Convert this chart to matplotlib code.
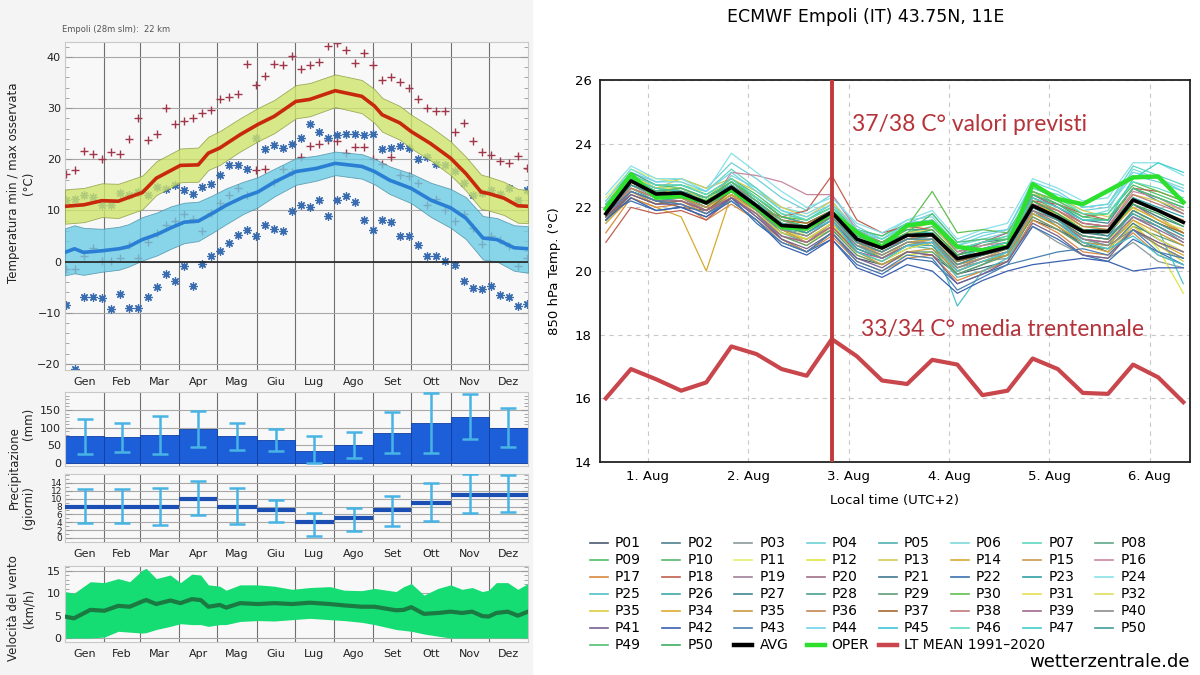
import numpy as np
import matplotlib.pyplot as plt
from matplotlib.patches import Rectangle
from matplotlib.lines import Line2D

# ---------------- left side: climate of Empoli ----------------
month_names = ['Gen', 'Feb', 'Mar', 'Apr', 'Mag', 'Giu', 'Lug', 'Ago', 'Set', 'Ott', 'Nov', 'Dez']
month_edges = [0, 31, 59, 90, 120, 151, 181, 212, 243, 273, 304, 334, 365]

# mean daily max and band
tmax_days = [0, 15, 29, 42, 61, 72, 91, 105, 113, 122, 138, 152, 165, 182, 193, 213, 234,
             244, 250, 264, 273, 288, 304, 316, 328, 334, 346, 357, 365]
tmax_mean = [10.8, 11.1, 11.9, 11.8, 13.5, 16.3, 18.8, 18.9, 21.2, 22.2, 24.8, 26.8, 28.4, 31.3,
             31.7, 33.4, 32.3, 30.4, 28.7, 27.1, 25.4, 23.1, 20.2, 17.2, 13.6, 13.3, 12.4, 10.9, 10.8]
tmax_hi = [14.1, 14.4, 15.3, 15.2, 16.8, 19.6, 22.1, 22.3, 24.4, 25.5, 28.0, 30.0, 31.6, 34.5,
           34.9, 36.6, 35.5, 33.7, 32.0, 30.4, 28.7, 26.4, 23.5, 20.5, 17.0, 16.6, 15.6, 14.2, 14.0]
tmax_lo = [7.4, 7.7, 8.7, 8.5, 10.2, 13.0, 15.5, 15.6, 17.9, 18.9, 21.5, 23.5, 25.1, 28.0,
           28.4, 30.2, 29.0, 27.1, 25.4, 23.8, 22.1, 19.8, 16.9, 13.9, 10.3, 10.0, 9.1, 7.6, 7.5]

# mean daily min and band
tmin_days = [0, 7.5, 14.5, 29, 42.5, 50, 61, 72.5, 83.5, 94, 105, 116, 127, 140.5, 152, 165.5,
             182, 198, 213, 234, 244, 256, 273, 288.5, 304, 316, 329.5, 340.5, 354, 365]
tmin_mean = [1.8, 2.5, 1.8, 2.1, 2.5, 2.9, 4.3, 5.3, 6.6, 7.7, 7.9, 9.4, 11.0, 12.6, 13.6, 15.6,
             17.6, 18.2, 19.2, 18.6, 17.6, 15.9, 14.3, 12.0, 10.5, 8.5, 4.6, 4.3, 2.7, 2.5]
tmin_hi = [6.5, 7.1, 6.6, 6.4, 6.8, 7.3, 8.7, 9.6, 10.8, 11.5, 11.7, 12.9, 14.3, 15.6, 16.5, 18.2,
           20.2, 20.7, 21.5, 21.0, 20.1, 18.6, 17.2, 15.4, 14.2, 12.6, 8.9, 8.5, 7.1, 6.9]
tmin_lo = [-2.7, -2.3, -2.6, -2.0, -1.6, -1.0, 0.2, 1.2, 2.5, 3.6, 4.0, 5.6, 7.3, 9.3, 10.6, 12.8,
           15.0, 15.8, 16.9, 16.2, 15.1, 13.2, 11.4, 8.7, 6.6, 4.4, 0.4, 0.0, -1.8, -2.2]

# weekly records
max_record_hi = [17.2, 17.9, 21.6, 21.0, 20.1, 21.4, 21.0, 24.0, 28.1, 23.7, 25.0, 30.0, 26.8,
                 27.4, 28.0, 29.0, 29.6, 31.7, 32.2, 32.8, 38.6, 34.5, 36.3, 38.7, 38.4, 40.1,
                 37.7, 38.5, 39.0, 42.2, 42.8, 41.3, 38.9, 40.7, 38.4, 35.5, 36.1, 35.1, 34.0,
                 31.8, 30.1, 29.5, 29.5, 25.4, 27.1, 23.5, 21.4, 20.9, 19.7, 19.2, 20.7, 18.2]
max_record_lo = [-1.4, -1.4, 1.0, 2.7, 0.1, 0.1, 0.7, 3.3, 0.7, 3.8, 5.6, 7.2, 8.0, 9.2, 8.3,
                 5.9, 9.4, 11.4, 13.1, 14.3, 13.0, 17.9, 18.0, 15.6, 18.0, 17.6, 20.5, 22.6,
                 23.0, 23.8, 23.6, 21.2, 22.3, 22.3, 20.1, 19.1, 20.5, 16.9, 16.8, 15.4, 11.1,
                 12.2, 10.0, 7.9, 9.2, 6.6, 3.4, 4.9, 4.3, 3.0, -0.9, 0.6]
min_record_hi = [12.0, 12.2, 13.0, 12.7, 11.1, 11.1, 13.5, 13.1, 13.6, 13.0, 14.6, 14.1, 15.0,
                 14.0, 13.3, 14.6, 15.1, 17.0, 18.8, 18.8, 18.0, 24.1, 22.0, 22.8, 22.2, 22.9,
                 24.1, 26.9, 25.3, 24.1, 24.8, 25.0, 25.0, 24.8, 25.0, 22.0, 22.2, 22.6, 22.2,
                 20.0, 20.5, 19.1, 18.9, 17.7, 15.4, 13.0, 13.5, 14.0, 13.3, 14.3, 12.1, 14.0]
min_record_lo = [-8.4, -21.0, -6.9, -6.9, -7.1, -9.2, -6.4, -9.0, -9.0, -6.9, -4.9, -2.5, -3.8,
                 -0.9, -4.7, -0.4, 1.0, 2.1, 3.6, 5.1, 6.1, 4.9, 7.1, 6.4, 5.9, 9.8, 11.1, 10.6,
                 12.1, 9.0, 12.1, 12.9, 11.6, 8.1, 6.2, 8.2, 7.7, 4.9, 4.9, 3.3, 1.0, 1.0, 0.2,
                 -0.6, -3.8, -5.1, -5.3, -4.8, -6.6, -6.9, -8.7, -8.2]

# monthly precipitation
rain_mm = [75, 73, 79, 95, 75, 64, 34, 50, 85, 114, 131, 99]
rain_mm_lo = [25, 32, 26, 45, 36, 35, 0, 14, 29, 29, 68, 45]
rain_mm_hi = [125, 114, 133, 148, 112, 95, 75, 87, 145, 197, 194, 155]
rain_days = [8, 8, 8, 10, 8, 7, 4, 5, 7, 9, 11, 11]
rain_days_lo = [3.7, 3.7, 3.3, 5.8, 3.5, 4.0, 0.6, 1.8, 3.1, 4.2, 6.4, 6.6]
rain_days_hi = [12.4, 12.4, 12.7, 14.6, 12.6, 9.7, 6.4, 7.7, 10.8, 14.0, 16.2, 16.1]

# wind speed
wind_days = [0, 7, 20, 31, 42, 51, 61, 64, 72, 83, 91, 100, 107, 113, 122, 127, 138, 152, 165,
             179, 193, 209, 220, 234, 244, 261, 267, 273, 283, 294, 304, 313, 321, 329, 334,
             340, 349, 357, 365]
wind_hi = [10.4, 10.0, 12.6, 12.4, 13.3, 12.6, 15.2, 15.6, 13.3, 14.1, 12.4, 14.3, 14.1, 11.9,
           11.6, 10.7, 11.9, 11.9, 11.6, 10.9, 11.3, 11.5, 10.7, 10.6, 11.1, 10.4, 11.5, 12.2,
           9.6, 11.1, 11.9, 10.9, 11.3, 10.4, 10.7, 12.4, 12.4, 10.9, 12.2]
wind_mean = [4.8, 4.4, 6.3, 6.1, 7.2, 7.0, 8.2, 8.5, 7.6, 8.4, 7.8, 8.7, 8.5, 7.0, 7.4, 6.8,
             7.8, 7.6, 7.8, 7.6, 7.9, 7.6, 7.3, 7.0, 7.0, 6.2, 6.3, 6.9, 5.4, 5.6, 5.9, 5.6,
             5.9, 4.9, 4.8, 5.6, 5.9, 5.0, 5.9]
wind_lo = [0.0, 0.0, 0.0, 0.2, 1.5, 1.3, 1.1, 1.2, 1.9, 2.6, 3.2, 3.0, 3.0, 2.6, 3.0, 3.0, 3.7,
           3.9, 3.8, 4.1, 4.4, 4.1, 3.9, 3.5, 3.0, 1.9, 1.7, 1.5, 0.9, 0.4, 0.0, 0.0, 0.0, 0.0,
           0.0, 0.0, 0.0, 0.0, 0.0]

# ---------------- right side: ECMWF ensemble ----------------
hours_utc = np.arange(12, 156, 6)          # Jul 31 12 UTC ... every 6 h
member_labels = ['P01', 'P02', 'P03', 'P04', 'P05', 'P06', 'P07', 'P08',
                 'P09', 'P10', 'P11', 'P12', 'P13', 'P14', 'P15', 'P16',
                 'P17', 'P18', 'P19', 'P20', 'P21', 'P22', 'P23', 'P24',
                 'P25', 'P26', 'P27', 'P28', 'P29', 'P30', 'P31', 'P32',
                 'P35', 'P34', 'P35', 'P36', 'P37', 'P38', 'P39', 'P40',
                 'P41', 'P42', 'P43', 'P44', 'P45', 'P46', 'P47', 'P50',
                 'P49', 'P50']
member_colors = ['#4a5a70', '#4f8090', '#8a9a9a', '#70cfd8', '#50b0b0', '#80d8d8', '#60d6c0', '#60a888',
                 '#50bf68', '#58b870', '#e4ee70', '#dce640', '#d4cc50', '#d8aa30', '#c89a50', '#c888a0',
                 '#d88a40', '#c06050', '#a08098', '#a07088', '#407890', '#3a70b0', '#30a0a8', '#88e0e8',
                 '#50c0c8', '#40a8a8', '#408890', '#48a090', '#609c78', '#60c050', '#e6de50', '#dede60',
                 '#dccc40', '#dcaa30', '#cc9a40', '#c48850', '#a86a30', '#c07878', '#a06890', '#8c8c8c',
                 '#786090', '#3a60b0', '#4a80b0', '#70d4e8', '#40c4d8', '#60dcc0', '#40d0c8', '#409c9c',
                 '#50c070', '#40ac60']
members = [
    [21.6, 22.5, 22.2, 22.0, 21.9, 22.3, 21.8, 21.0, 20.6, 21.2, 20.4, 20.2, 20.6, 20.5, 19.9, 20.1, 20.3, 21.6, 21.3, 20.9, 20.6, 21.3, 20.8, 20.4],
    [22.0, 22.9, 22.6, 22.5, 22.3, 22.8, 22.3, 21.7, 21.5, 21.9, 21.1, 20.9, 21.4, 21.5, 20.6, 20.9, 21.0, 22.4, 22.0, 21.6, 21.5, 22.6, 22.2, 21.8],
    [21.7, 22.7, 22.3, 22.3, 22.0, 22.5, 22.0, 21.5, 21.2, 21.6, 20.8, 20.5, 20.9, 21.0, 20.1, 20.3, 20.4, 21.4, 20.9, 20.5, 20.4, 20.9, 20.3, 20.1],
    [22.2, 23.1, 22.8, 22.9, 22.6, 23.4, 22.9, 22.3, 21.9, 22.4, 21.4, 21.0, 21.5, 21.8, 20.9, 21.2, 21.3, 22.7, 22.3, 21.9, 22.0, 23.0, 22.8, 22.5],
    [21.9, 22.8, 22.5, 22.6, 22.2, 22.7, 22.1, 21.3, 21.2, 21.7, 20.8, 20.4, 20.8, 20.7, 19.8, 20.0, 20.3, 21.8, 21.5, 20.9, 20.8, 21.9, 21.5, 21.1],
    [21.5, 22.4, 22.1, 22.2, 22.0, 23.0, 22.6, 22.0, 21.8, 22.2, 21.3, 21.1, 21.6, 21.7, 20.8, 21.0, 21.2, 22.5, 22.2, 21.7, 21.9, 23.2, 22.9, 22.6],
    [22.1, 23.0, 22.6, 22.7, 22.5, 23.2, 22.6, 21.9, 21.6, 22.1, 21.2, 20.9, 21.3, 21.2, 20.5, 20.8, 21.0, 22.6, 22.4, 22.0, 22.1, 23.3, 23.0, 22.7],
    [21.8, 22.9, 22.5, 22.4, 22.1, 22.6, 22.0, 21.2, 20.9, 21.3, 20.6, 20.3, 20.7, 20.9, 20.2, 20.4, 20.6, 22.0, 21.6, 21.1, 21.0, 21.8, 21.4, 21.0],
    [21.9, 23.0, 22.7, 22.6, 22.3, 22.9, 22.4, 21.8, 21.6, 22.0, 21.3, 21.1, 21.5, 21.6, 20.7, 20.9, 21.1, 22.5, 22.1, 21.7, 21.8, 22.7, 22.4, 22.1],
    [21.7, 22.7, 22.4, 22.4, 22.2, 22.7, 22.2, 21.6, 21.4, 21.9, 21.1, 20.8, 21.2, 21.4, 20.6, 20.8, 21.0, 22.3, 21.9, 21.4, 21.4, 22.3, 21.9, 21.5],
    [22.3, 23.2, 22.9, 22.8, 22.4, 22.8, 22.2, 21.5, 21.1, 21.6, 20.9, 20.6, 21.0, 21.1, 20.3, 20.6, 20.9, 22.2, 21.8, 21.3, 21.3, 22.0, 21.2, 20.8],
    [21.6, 22.6, 22.3, 22.5, 22.1, 22.5, 21.9, 21.1, 20.8, 21.4, 20.5, 20.2, 20.5, 20.6, 19.9, 20.2, 20.5, 21.9, 21.6, 21.0, 20.9, 21.5, 20.7, 19.3],
    [22.0, 22.9, 22.6, 22.9, 22.6, 22.9, 22.5, 22.0, 21.7, 22.2, 21.2, 20.8, 21.3, 21.5, 20.5, 20.7, 20.9, 22.4, 22.3, 21.9, 21.7, 22.4, 22.2, 21.9],
    [21.5, 22.3, 22.0, 21.7, 20.0, 22.4, 22.0, 21.4, 21.3, 21.9, 20.9, 20.4, 20.9, 20.8, 20.0, 20.3, 20.5, 21.7, 21.3, 20.8, 20.6, 21.3, 20.9, 20.5],
    [21.7, 22.5, 22.2, 22.3, 21.9, 22.4, 21.9, 21.3, 21.0, 21.4, 20.7, 20.4, 20.8, 21.0, 20.2, 20.4, 20.7, 22.0, 21.6, 21.2, 21.2, 22.1, 21.7, 21.2],
    [21.9, 22.6, 22.3, 22.2, 21.9, 23.1, 23.0, 22.8, 22.4, 22.4, 21.3, 20.9, 21.4, 21.6, 20.6, 20.8, 20.9, 22.3, 22.0, 21.5, 21.4, 22.5, 22.3, 21.9],
    [21.2, 22.3, 22.0, 22.1, 21.6, 22.1, 21.6, 21.0, 20.6, 21.1, 20.3, 20.0, 20.4, 20.5, 19.7, 20.0, 20.3, 21.6, 21.2, 20.6, 20.5, 21.2, 20.5, 20.2],
    [20.9, 22.0, 21.8, 21.9, 21.6, 22.3, 22.0, 21.7, 21.9, 23.0, 21.6, 21.2, 21.4, 21.3, 20.4, 20.5, 20.7, 22.2, 22.1, 21.8, 21.6, 22.6, 22.5, 22.2],
    [21.8, 22.7, 22.4, 22.3, 21.9, 22.4, 21.7, 21.1, 20.9, 21.5, 20.8, 20.6, 21.0, 21.2, 20.4, 20.7, 20.9, 22.1, 21.7, 21.0, 20.9, 21.7, 21.4, 21.0],
    [22.1, 22.9, 22.5, 22.5, 22.2, 22.7, 22.1, 21.5, 21.3, 21.7, 20.9, 20.7, 21.0, 21.1, 20.5, 20.9, 21.2, 22.4, 22.0, 21.5, 21.4, 22.1, 21.6, 21.2],
    [21.7, 22.6, 22.3, 22.4, 22.0, 22.6, 22.0, 21.3, 21.1, 21.6, 20.7, 20.4, 20.8, 20.9, 20.0, 20.3, 20.5, 21.9, 21.4, 20.8, 20.7, 21.5, 21.0, 20.6],
    [21.8, 22.2, 21.9, 22.0, 21.7, 22.3, 21.5, 20.9, 20.6, 21.0, 20.2, 19.9, 20.4, 20.3, 19.6, 19.9, 20.2, 21.4, 21.0, 20.5, 20.3, 21.0, 20.6, 20.2],
    [22.0, 22.8, 22.5, 22.6, 22.3, 22.8, 22.2, 21.6, 21.4, 21.8, 21.0, 20.8, 21.2, 21.2, 20.3, 20.6, 20.8, 22.2, 21.8, 21.3, 21.3, 22.3, 22.0, 21.7],
    [22.4, 23.3, 22.9, 22.9, 22.5, 23.7, 23.1, 22.5, 22.0, 22.3, 21.5, 21.2, 21.6, 21.9, 21.0, 21.3, 21.5, 22.9, 22.6, 22.2, 22.3, 23.4, 23.4, 23.0],
    [21.9, 22.8, 22.4, 22.5, 22.1, 22.5, 22.0, 21.3, 21.3, 21.7, 20.8, 20.5, 20.9, 21.0, 18.9, 20.0, 20.4, 21.8, 21.5, 21.0, 20.8, 21.7, 21.3, 19.6],
    [21.6, 22.6, 22.2, 22.3, 22.0, 22.5, 21.9, 21.2, 21.0, 21.5, 20.7, 20.4, 20.8, 20.8, 19.9, 20.2, 20.6, 22.0, 21.7, 21.3, 21.1, 21.8, 21.4, 20.9],
    [21.8, 22.9, 22.5, 22.5, 22.3, 22.7, 22.1, 21.5, 21.4, 21.8, 20.9, 20.6, 21.0, 21.1, 20.3, 20.5, 20.8, 22.1, 21.7, 21.2, 21.1, 22.1, 21.7, 21.4],
    [22.1, 23.1, 22.7, 22.7, 22.4, 22.9, 22.3, 21.7, 21.5, 21.9, 21.2, 20.9, 21.3, 21.3, 20.5, 20.7, 20.9, 22.4, 22.1, 21.6, 21.6, 22.6, 22.3, 22.0],
    [21.6, 22.5, 22.2, 22.2, 21.9, 22.4, 21.8, 21.1, 20.8, 21.3, 20.5, 20.2, 20.6, 20.6, 19.9, 20.2, 20.5, 21.7, 21.3, 20.8, 20.7, 21.4, 21.1, 20.8],
    [22.0, 23.0, 22.6, 22.5, 22.2, 22.8, 22.3, 21.7, 21.6, 22.0, 21.2, 20.9, 21.4, 22.5, 21.2, 21.3, 21.2, 22.5, 22.2, 21.8, 21.8, 22.8, 22.5, 22.2],
    [22.2, 23.0, 22.6, 22.6, 22.3, 22.6, 22.0, 21.3, 21.0, 21.5, 20.6, 20.3, 20.7, 20.9, 20.1, 20.4, 20.6, 21.9, 21.5, 21.1, 21.0, 21.6, 21.0, 20.6],
    [21.9, 22.7, 22.4, 22.6, 22.2, 22.6, 22.1, 21.6, 21.5, 21.8, 21.0, 20.7, 21.2, 21.3, 20.4, 20.6, 20.8, 22.0, 21.8, 21.4, 21.3, 22.0, 21.6, 21.3],
    [21.7, 22.6, 22.3, 22.3, 22.0, 22.4, 21.8, 21.2, 21.0, 21.5, 20.6, 20.3, 20.8, 20.9, 20.0, 20.3, 20.6, 21.8, 21.4, 20.9, 20.7, 21.4, 20.8, 20.3],
    [22.0, 22.8, 22.5, 22.4, 22.1, 22.5, 22.0, 21.4, 21.2, 21.7, 20.9, 20.5, 20.9, 21.0, 20.2, 20.5, 20.7, 22.1, 21.8, 21.3, 21.2, 22.0, 21.6, 21.2],
    [21.8, 22.5, 22.1, 22.2, 21.8, 22.4, 21.9, 21.3, 20.9, 21.4, 20.6, 20.2, 20.6, 20.7, 20.0, 20.3, 20.5, 21.8, 21.4, 20.9, 20.8, 21.6, 21.2, 20.8],
    [21.9, 22.8, 22.4, 22.3, 22.0, 22.6, 22.1, 21.5, 21.3, 21.7, 20.9, 20.6, 21.0, 21.2, 20.4, 20.6, 20.8, 22.2, 21.9, 21.4, 21.3, 22.2, 21.9, 21.6],
    [21.6, 22.4, 22.1, 22.2, 21.9, 22.5, 22.1, 21.6, 21.5, 21.9, 21.0, 20.7, 21.1, 21.1, 20.3, 20.5, 20.7, 22.0, 21.6, 21.1, 21.0, 21.9, 21.5, 21.2],
    [21.8, 22.6, 22.3, 22.4, 22.1, 22.7, 22.2, 21.6, 21.3, 21.8, 20.9, 20.6, 21.0, 21.0, 20.2, 20.5, 20.7, 22.1, 21.9, 21.5, 21.4, 22.4, 22.1, 21.8],
    [21.7, 22.5, 22.2, 22.2, 21.9, 22.3, 21.8, 21.1, 20.9, 21.4, 20.6, 20.4, 20.8, 20.9, 20.1, 20.4, 20.6, 21.9, 21.6, 21.0, 20.9, 21.7, 21.3, 20.9],
    [21.9, 22.7, 22.4, 22.4, 22.1, 22.5, 21.9, 21.3, 21.1, 21.6, 20.8, 20.5, 20.9, 20.9, 20.1, 20.4, 20.6, 21.9, 21.5, 21.0, 20.8, 21.3, 20.8, 20.4],
    [21.7, 22.4, 22.1, 22.1, 21.8, 22.3, 21.7, 21.0, 20.7, 21.2, 20.4, 20.1, 20.6, 20.5, 19.6, 19.9, 20.3, 21.5, 21.1, 20.5, 20.4, 21.3, 20.9, 20.6],
    [21.6, 22.3, 21.9, 22.0, 21.7, 22.2, 21.6, 20.8, 20.5, 21.0, 20.1, 19.8, 20.2, 20.0, 19.3, 19.7, 20.0, 20.2, 20.3, 20.4, 20.3, 20.0, 20.1, 20.1],
    [21.8, 22.5, 22.2, 22.1, 21.8, 22.2, 21.6, 20.9, 20.6, 21.2, 20.3, 20.0, 20.5, 20.4, 19.4, 19.8, 20.2, 20.4, 20.6, 20.7, 20.5, 21.3, 20.6, 20.4],
    [22.2, 23.2, 22.8, 22.8, 22.5, 23.1, 22.5, 21.9, 21.7, 22.1, 21.3, 21.0, 21.5, 21.6, 20.8, 21.1, 21.3, 22.8, 22.5, 22.0, 22.1, 23.1, 22.9, 22.5],
    [21.9, 22.9, 22.5, 22.6, 22.3, 22.8, 22.2, 21.4, 21.2, 21.6, 20.6, 20.3, 20.8, 20.9, 20.0, 20.3, 20.6, 22.0, 21.6, 20.9, 20.7, 21.1, 20.5, 20.2],
    [22.1, 23.0, 22.7, 22.7, 22.4, 22.9, 22.3, 21.8, 21.6, 22.0, 21.2, 21.0, 21.4, 21.5, 20.7, 20.9, 21.1, 22.6, 22.3, 21.8, 21.8, 22.8, 22.6, 22.3],
    [22.0, 22.9, 22.6, 22.5, 22.2, 22.7, 22.1, 21.5, 21.3, 21.8, 21.0, 20.7, 21.1, 21.2, 20.4, 20.7, 20.9, 22.3, 22.0, 21.6, 21.6, 22.9, 23.4, 23.1],
    [21.8, 22.7, 22.4, 22.4, 22.1, 22.6, 22.0, 21.4, 21.2, 21.7, 20.9, 20.6, 21.0, 21.0, 20.2, 20.5, 20.7, 22.0, 21.6, 21.1, 21.0, 21.9, 21.5, 21.1],
    [22.0, 22.9, 22.5, 22.6, 22.3, 22.8, 22.2, 21.6, 21.4, 21.9, 21.1, 20.8, 21.2, 21.8, 20.9, 21.0, 21.0, 22.4, 22.1, 21.7, 21.6, 22.6, 22.3, 22.0],
    [21.9, 22.8, 22.4, 22.4, 22.1, 22.6, 22.0, 21.4, 21.3, 21.8, 21.0, 20.7, 21.1, 21.3, 20.5, 20.7, 20.8, 22.2, 21.8, 21.3, 21.2, 22.1, 21.8, 21.4],
]
ens_avg = [21.8, 22.83, 22.42, 22.45, 22.14, 22.63, 22.05, 21.43, 21.38, 21.85, 21.0, 20.72,
           21.12, 21.14, 20.39, 20.55, 20.75, 22.05, 21.69, 21.24, 21.24, 22.23, 21.9, 21.53]
oper = [21.95, 23.04, 22.3, 22.36, 22.16, 22.55, 22.0, 21.38, 21.33, 21.83, 21.22, 20.76,
        21.43, 21.53, 20.76, 20.65, 20.76, 22.73, 22.26, 22.1, 22.52, 22.94, 22.97, 22.16]
lt_mean = [16.0, 16.92, 16.6, 16.24, 16.5, 17.63, 17.39, 16.92, 16.71, 17.86, 17.32, 16.56,
           16.45, 17.21, 17.06, 16.1, 16.24, 17.25, 16.92, 16.17, 16.14, 17.06, 16.66, 15.88]
day_labels = ['1. Aug', '2. Aug', '3. Aug', '4. Aug', '5. Aug', '6. Aug']

# ---------------- figure ----------------
fig = plt.figure(figsize=(12, 6.75), dpi=100)
fig.patches.append(Rectangle((0, 0), 0.443, 1, transform=fig.transFigure,
                             color='#f4f4f4', zorder=-10))

W = 1200.0
H = 675.0
L, R = 65, 528


def box(top, bottom):
    return [L / W, 1 - bottom / H, (R - L) / W, (bottom - top) / H]


month_mid = [(month_edges[i] + month_edges[i + 1]) / 2 for i in range(12)]
month_len = [month_edges[i + 1] - month_edges[i] for i in range(12)]


def style_left(ax, show_months=True):
    ax.set_facecolor('#f8f8f8')
    ax.set_xlim(0, 365)
    for e in month_edges[1:-1]:
        ax.axvline(e, color='#707070', lw=0.8, zorder=1)
    ax.set_xticks(month_mid)
    if show_months:
        ax.set_xticklabels(month_names, fontsize=8, color='#222')
    else:
        ax.set_xticklabels([])
    ax.tick_params(axis='x', length=0, pad=5)
    ax.tick_params(axis='y', which='both', direction='in', left=True, right=True,
                   labelsize=8, colors='#999', labelcolor='#222', pad=3)
    ax.tick_params(axis='y', which='major', length=5)
    ax.tick_params(axis='y', which='minor', length=3)
    ax.grid(axis='y', which='major', color='#a8a8a8', lw=0.8, zorder=1)
    for s in ax.spines.values():
        s.set_color('#c8c8c8')
        s.set_linewidth(0.8)


# temperatures
ax1 = fig.add_axes(box(41.6, 370))
style_left(ax1)
ax1.set_ylim(-21.2, 43)
ax1.set_yticks([-20, -10, 0, 10, 20, 30, 40])
ax1.set_yticks(np.arange(-20, 43, 2), minor=True)
rec_days = np.linspace(1, 364, 52)
ax1.plot(rec_days, max_record_hi, '+', color='#a0364a', ms=6, mew=1.0, zorder=2)
ax1.plot(rec_days, max_record_lo, '+', color='#a0364a', ms=6, mew=1.0, zorder=2)
ax1.plot(rec_days, min_record_hi, marker=(8, 2, 0), ls='none', color='#3a6cb0', ms=6, mew=0.9, zorder=2)
ax1.plot(rec_days, min_record_lo, marker=(8, 2, 0), ls='none', color='#3a6cb0', ms=6, mew=0.9, zorder=2)
ax1.fill_between(tmax_days, tmax_lo, tmax_hi, color='#cfe46c', alpha=0.8,
                 edgecolor='#8a9a40', lw=0.6, zorder=3)
ax1.fill_between(tmin_days, tmin_lo, tmin_hi, color='#6ccbe4', alpha=0.8,
                 edgecolor='#4a90a8', lw=0.6, zorder=3)
ax1.axhline(0, color='#222', lw=1.2, zorder=4)
ax1.plot(tmax_days, tmax_mean, color='#c8280c', lw=2.6, zorder=5)
ax1.plot(tmin_days, tmin_mean, color='#2a7fd4', lw=2.6, zorder=5)

# precipitation amount
ax2 = fig.add_axes(box(392.3, 465.8))
style_left(ax2, show_months=False)
ax2.set_ylim(-8, 200)
ax2.set_yticks([0, 50, 100, 150])
ax2.set_yticks(np.arange(0, 200, 10), minor=True)
ax2.bar(month_mid, rain_mm, width=month_len, color='#1c5fd8', edgecolor='#1040a0',
        lw=0.6, zorder=2)
ax2.errorbar(month_mid, rain_mm,
             yerr=[np.subtract(rain_mm, rain_mm_lo), np.subtract(rain_mm_hi, rain_mm)],
             fmt='none', ecolor='#48b4e4', elinewidth=1.8, capsize=6, capthick=1.8, zorder=3)

# precipitation days
ax3 = fig.add_axes(box(473.9, 541.9))
style_left(ax3)
ax3.set_ylim(-1, 16.3)
ax3.set_yticks(np.arange(0, 15, 2))
ax3.set_yticks(np.arange(-1, 17, 1), minor=True)
ax3.tick_params(axis='y', labelsize=6.5, pad=2)
ax3.hlines(rain_days, month_edges[:-1], month_edges[1:], color='#1c4fb4', lw=3, zorder=3)
ax3.errorbar(month_mid, rain_days,
             yerr=[np.subtract(rain_days, rain_days_lo), np.subtract(rain_days_hi, rain_days)],
             fmt='none', ecolor='#48b4e4', elinewidth=1.8, capsize=6, capthick=1.8, zorder=4)

# wind
ax4 = fig.add_axes(box(566.1, 642))
style_left(ax4)
ax4.set_ylim(-0.9, 16.1)
ax4.set_yticks([0, 5, 10, 15])
ax4.set_yticks(np.arange(0, 17, 1), minor=True)
ax4.fill_between(wind_days, wind_lo, wind_hi, color='#16dc74', lw=0, zorder=2)
ax4.plot(wind_days, wind_mean, color='#1a7a42', lw=3, zorder=3)

fig.text(62 / W, 1 - 30 / H, 'Empoli (28m slm):  22 km', fontsize=6, color='#555', va='center')
fig.text(14 / W, 1 - 183 / H, 'Temperatura min / max osservata', rotation=90,
         ha='center', va='center', fontsize=8.5, color='#222')
fig.text(29 / W, 1 - 183 / H, '(°C)', rotation=90, ha='center', va='center', fontsize=8.5, color='#222')
fig.text(14 / W, 1 - 468 / H, 'Precipitazione', rotation=90, ha='center', va='center',
         fontsize=8.5, color='#222')
fig.text(29 / W, 1 - 424 / H, '(mm)', rotation=90, ha='center', va='center', fontsize=8.5, color='#222')
fig.text(29 / W, 1 - 508 / H, '(giorni)', rotation=90, ha='center', va='center', fontsize=8.5, color='#222')
fig.text(14 / W, 1 - 608 / H, 'Velocità del vento', rotation=90, ha='center', va='center',
         fontsize=8.5, color='#222')
fig.text(29 / W, 1 - 608 / H, '(km/h)', rotation=90, ha='center', va='center', fontsize=8.5, color='#222')

# ---------------- ensemble plume ----------------
times = (hours_utc + 2) / 24.0
ax = fig.add_axes([600 / W, 1 - 462 / H, 590 / W, 382 / H])
handles = []
for lab, col, row in zip(member_labels, member_colors, members):
    h, = ax.plot(times, row, color=col, lw=0.9, label=lab, zorder=2)
    handles.append(h)
h_oper, = ax.plot(times, oper, color='#2ee02e', lw=3.2, label='OPER', zorder=4)
h_avg, = ax.plot(times, ens_avg, color='black', lw=2.6, label='AVG', zorder=5)
h_lt, = ax.plot(times, lt_mean, color='#c8464c', lw=3, label='LT MEAN 1991\u20132020', zorder=6)
handles += [h_avg, h_oper, h_lt]

ax.axvline(2.84, color='#c23a3c', lw=2.8, zorder=7)
ax.text(3.03, 24.6, '37/38 C° valori previsti', color='#b5333b', fontsize=16.5,
        family=['Lato', 'DejaVu Sans'], va='center', ha='left', zorder=8)
ax.text(3.12, 18.17, '33/34 C° media trentennale', color='#b5333b', fontsize=16.5,
        family=['Lato', 'DejaVu Sans'], va='center', ha='left', zorder=8)

ax.set_xlim(0.525, 6.4)
ax.set_ylim(14, 26)
ax.set_yticks(np.arange(14, 27, 2))
ax.set_xticks(np.arange(1, 7))
ax.set_xticklabels(day_labels)
ax.tick_params(labelsize=9.5, length=0, pad=6)
ax.grid(True, color='#c8c8c8', lw=0.8, ls=(0, (4, 4)))
ax.set_axisbelow(True)
for s in ax.spines.values():
    s.set_color('#222')
    s.set_linewidth(1.3)
ax.set_ylabel('850 hPa Temp. (°C)', fontsize=9.5, labelpad=10)
ax.set_xlabel('Local time (UTC+2)', fontsize=9.5, labelpad=8)

# legend drawn by hand, row by row in 8 columns
for i, h in enumerate(handles):
    r, c = divmod(i, 8)
    x = 590 + 72.2 * c
    y = 1 - (543 + 17 * r) / H
    lw = 1.2 if h.get_linewidth() < 2 else 3.2
    fig.add_artist(Line2D([x / W, (x + 18) / W], [y, y], color=h.get_color(), lw=lw,
                          transform=fig.transFigure))
    fig.text((x + 25) / W, y, h.get_label(), fontsize=10, va='center', ha='left')

fig.text(866 / W, 1 - 17 / H, 'ECMWF Empoli (IT) 43.75N, 11E', ha='center', va='center',
         fontsize=12.5)
fig.text(1190 / W, 1 - 662 / H, 'wetterzentrale.de', ha='right', va='center', fontsize=13)

fig.savefig('out.png', dpi=100)
